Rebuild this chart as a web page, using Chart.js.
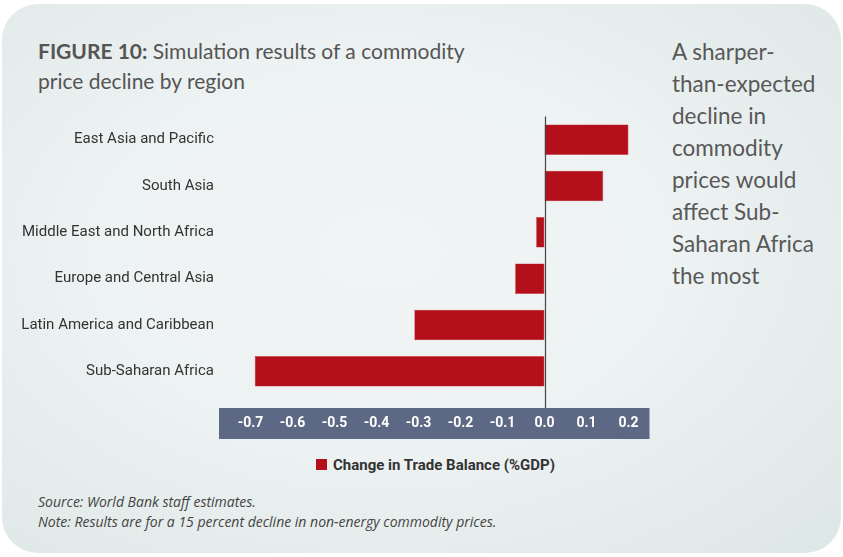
<!DOCTYPE html>
<html>
<head>
<meta charset="utf-8">
<script src="https://cdn.jsdelivr.net/npm/chart.js@4.4.0/dist/chart.umd.min.js"></script>
<style>
    html, body { margin: 0; padding: 0; background: #fff; }
    #wrap { position: relative; width: 843px; height: 557px; overflow: hidden; }
    .card {
        position: absolute; left: 2px; top: 4px; width: 839px; height: 549px;
        border-radius: 36px;
        background: radial-gradient(ellipse at 45% 45%, #f1f4f4 0%, #edf2f2 45%, #dde6e6 100%);
    }
    .title {
        position: absolute; left: 38px; top: 36px; width: 460px;
        font-family: Lato, "Open Sans", sans-serif; font-size: 21px; line-height: 30px; color: #555;
    }
    .title b { font-weight: 700; }
    .side {
        position: absolute; left: 672px; top: 36px; width: 165px;
        font-family: Lato, "Open Sans", sans-serif; font-size: 22.5px; line-height: 32px; color: #585858;
    }
    .legend {
        position: absolute; left: 316px; top: 454px;
        font-family: Roboto, sans-serif;
        font-size: 15px; font-weight: 700; color: #333; line-height: 22px;
    }
    .legend span.box {
        display: inline-block; width: 11px; height: 11px; background: #b3101b;
        margin-right: 6px; vertical-align: 0px;
    }
    .notes {
        position: absolute; left: 38px; top: 492px;
        font-family: "Open Sans", sans-serif; font-style: italic; font-size: 14px; line-height: 20px; color: #444;
    }
    canvas { position: absolute; left: 0; top: 0; }
</style>
</head>
<body>
<div id="wrap">
    <div class="card"></div>
    <div class="title"><b>FIGURE 10:</b> Simulation results of a commodity price decline by region</div>
    <div class="side">A sharper-<br>than-expected<br>decline in<br>commodity<br>prices would<br>affect Sub-<br>Saharan Africa<br>the most</div>
    <canvas id="chart" width="843" height="445"></canvas>
    <div class="legend"><span class="box"></span>Change in Trade Balance (%GDP)</div>
    <div class="notes">Source: World Bank staff estimates.<br>Note: Results are for a 15 percent decline in non-energy commodity prices.</div>
</div>

<script>
    const regions = ['East Asia and Pacific', 'South Asia', 'Middle East and North Africa',
        'Europe and Central Asia', 'Latin America and Caribbean', 'Sub-Saharan Africa'];
    const tradeBalance = [0.20, 0.14, -0.02, -0.07, -0.31, -0.69];
    const xTicks = [-0.7, -0.6, -0.5, -0.4, -0.3, -0.2, -0.1, 0.0, 0.1, 0.2];

    const barColor = '#b3101b';
    const labelFont = "Roboto, 'Liberation Sans', sans-serif";

    // grey band behind the x axis labels, and the zero line
    const axisDecor = {
        id: 'axisDecor',
        beforeDraw(chart) {
            const ctx = chart.ctx;
            const area = chart.chartArea;
            ctx.save();
            ctx.fillStyle = '#5d6984';
            ctx.fillRect(area.left, 408, area.right - area.left, 31);
            ctx.restore();
        },
        afterDatasetsDraw(chart) {
            const ctx = chart.ctx;
            const x0 = Math.round(chart.scales.x.getPixelForValue(0)) + 0.5;
            ctx.save();
            ctx.strokeStyle = '#444';
            ctx.lineWidth = 1.2;
            ctx.beginPath();
            ctx.moveTo(x0, chart.chartArea.top);
            ctx.lineTo(x0, 408);
            ctx.stroke();
            ctx.restore();
        }
    };

    new Chart(document.getElementById('chart'), {
        type: 'bar',
        data: {
            labels: regions,
            datasets: [{
                label: 'Change in Trade Balance (%GDP)',
                data: tradeBalance,
                backgroundColor: barColor,
                borderColor: '#c9414a',
                borderWidth: 0.6,
                borderSkipped: false,
                barPercentage: 0.66,
                categoryPercentage: 1.0
            }]
        },
        options: {
            indexAxis: 'y',
            responsive: false,
            animation: false,
            layout: { padding: { top: 116.5, right: 193.5, left: 0, bottom: 0 } },
            plugins: {
                legend: { display: false },
                tooltip: { enabled: false }
            },
            scales: {
                x: {
                    min: -0.775,
                    max: 0.25,
                    afterBuildTicks: (scale) => { scale.ticks = xTicks.map(v => ({ value: v })); },
                    afterFit: (scale) => { scale.height = 50.5; },
                    grid: { display: false, drawTicks: false },
                    border: { display: false },
                    ticks: {
                        padding: 21,
                        color: '#ffffff',
                        font: { family: labelFont, size: 14, weight: 'bold' },
                        callback: (v) => Number(v).toFixed(1)
                    }
                },
                y: {
                    afterFit: (scale) => { scale.width = 219; },
                    grid: { display: false, drawTicks: false },
                    border: { display: false },
                    ticks: {
                        padding: 5,
                        color: '#333',
                        font: { family: labelFont, size: 15 }
                    }
                }
            }
        },
        plugins: [axisDecor]
    });
</script>
</body>
</html>
